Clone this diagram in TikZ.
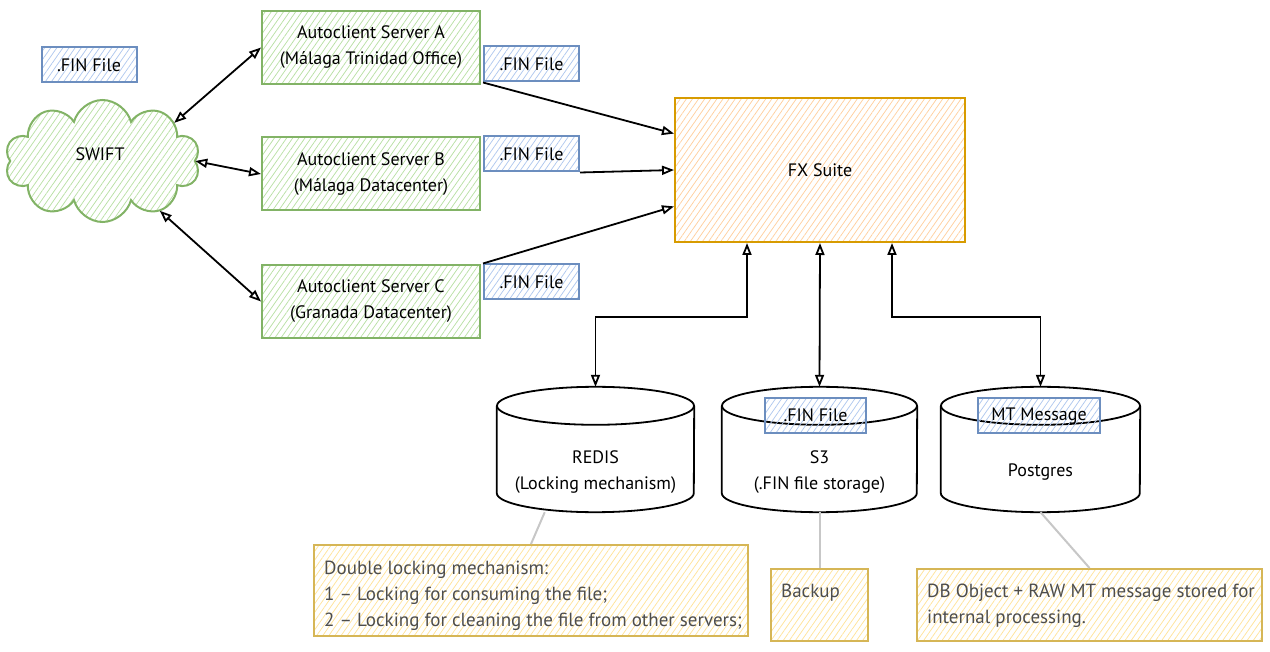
\documentclass[tikz,border=0pt]{standalone}
\usepackage{fontspec}
\setmainfont{PT Sans}
\usetikzlibrary{shapes.symbols,shapes.geometric,patterns.meta,arrows.meta,calc}
\definecolor{grnS}{HTML}{82B366}
\definecolor{grnH}{HTML}{B9E0A5}
\definecolor{bluS}{HTML}{6C8EBF}
\definecolor{bluH}{HTML}{B0C8EE}
\definecolor{orgS}{HTML}{D79B00}
\definecolor{orgH}{HTML}{FFCF9F}
\definecolor{yelS}{HTML}{D6B656}
\definecolor{yelH}{HTML}{FFE39A}
\definecolor{noteTxt}{HTML}{4D4D4D}
\tikzset{
  hatch/.style={pattern={Lines[angle=55,distance=5pt,line width=0.75pt]}, pattern color=#1},
  srv/.style={draw=grnS, line width=2pt, hatch=grnH, minimum width=218pt, minimum height=73pt, inner sep=0pt},
  cloudst/.style={cloud, cloud puffs=10, aspect=1.6, draw=grnS, line width=2pt, hatch=grnH, minimum width=195pt, minimum height=122pt, inner sep=0pt},
  fin/.style={draw=bluS, line width=2pt, hatch=bluH, minimum width=95pt, minimum height=35pt, inner sep=0pt},
  fxst/.style={draw=orgS, line width=2pt, hatch=orgH, minimum width=290pt, minimum height=144pt, inner sep=0pt},
  cylbox/.style={minimum width=197pt, minimum height=125pt, inner sep=0pt},
  cylst/.style={draw=black, line width=1.8pt},
  note/.style={draw=yelS, line width=2pt, hatch=yelH, inner sep=0pt},
  notetext/.style={text=noteTxt, align=left, inner sep=0pt, font=\fontsize{19}{26}\selectfont},
  arr/.style={-{Triangle[open,length=12pt,width=9pt]}, line width=1.8pt},
  dbl/.style={{Triangle[open,length=12pt,width=9pt]}-{Triangle[open,length=12pt,width=9pt]}, line width=1.8pt},
  gline/.style={draw=black!22, line width=2pt}
}
\begin{document}
\begin{tikzpicture}[x=1pt,y=-1pt, every node/.style={font=\fontsize{18}{26}\selectfont, align=center}]
\useasboundingbox (0,0) rectangle (1270,652);

% left side
\node[cloudst] (swift) at (102.5,161) {};
\node (swiftT) at (100,154) {SWIFT};
\node[fin] (fin0) at (89,65) {.FIN File};
\node[srv] (srvA) at (371,47.5) {Autoclient Server A\\(Málaga Trinidad Office)};
\node[srv] (srvB) at (371,174) {Autoclient Server B\\(Málaga Datacenter)};
\node[srv] (srvC) at (371,301.5) {Autoclient Server C\\(Granada Datacenter)};

\node[fin] (finA) at (531.5,64) {.FIN File};
\node[fin] (finB) at (531.5,154) {.FIN File};
\node[fin] (finC) at (531.5,282) {.FIN File};

\node[fxst] (fx) at (820,170) {FX Suite};

% cylinders
\node[cylbox] (redis) at (595.5,449.5) {};
\node[cylbox, minimum width=195pt] (s3) at (819.5,449.5) {};
\node[cylbox, minimum width=199pt] (pg) at (1040.5,449.5) {};
\foreach \c/\r in {redis/98.5, s3/97.5, pg/99.5}{
  \draw[cylst] ($(\c.north)+(0,19)$) ellipse [x radius=\r pt, y radius=19pt];
  \draw[cylst] ($(\c.north west)+(0,19)$) -- ($(\c.south west)+(0,-19)$)
     arc[start angle=180, end angle=360, x radius=\r pt, y radius=19pt]
     -- ($(\c.north east)+(0,19)$);
}
\node (redisT) at (595.5,472.5) {REDIS\\(Locking mechanism)};
\node (s3T) at (819.5,472.5) {S3\\(.FIN file storage)};
\node (pgT) at (1040.5,472) {Postgres};
\node[fin, minimum width=101pt] (s3fin) at (815.5,415.5) {.FIN File};
\node[fin, minimum width=122pt] (mt) at (1039,416) {MT Message};

% notes
\node[note, minimum width=434pt, minimum height=91pt] (n1) at (531,590.5) {};
\node[notetext, anchor=north west] (n1t) at (324,561) {Double locking mechanism:\\1 – Locking for consuming the file;\\2 – Locking for cleaning the file from other servers;};
\node[note, minimum width=97pt, minimum height=72pt] (bk) at (819.5,605) {};
\node[notetext, anchor=west] (bkt) at (781,593) {Backup};
\node[note, minimum width=345pt, minimum height=72pt] (db) at (1089.5,605) {};
\node[notetext, anchor=west] (dbt) at (927,606) {DB Object + RAW MT message stored for\\internal processing.};

% connectors
\draw[dbl] (swift.28) -- (srvA.west);
\draw[dbl] (swift.0) -- (srvB.west);
\draw[dbl] (swift.-41) -- (srvC.west);

\draw[arr] (finA.south west) -- (fx.166);
\draw[arr] (finB.south east) -- (fx.west);
\draw[arr] (finC.north west) -- (fx.194);

\draw[dbl] ($(fx.south)+(-73,0)$) -- ++(0,74) -| (redis.north);
\draw[dbl] (fx.south) -- (s3.north);
\draw[dbl] ($(fx.south)+(72,0)$) -- ++(0,74) -| (pg.north);

\draw[gline] (redis.231) -- (n1.north);
\draw[gline] (s3.south) -- (bk.north);
\draw[gline] (pg.south) -- (db.north);
\end{tikzpicture}
\end{document}
